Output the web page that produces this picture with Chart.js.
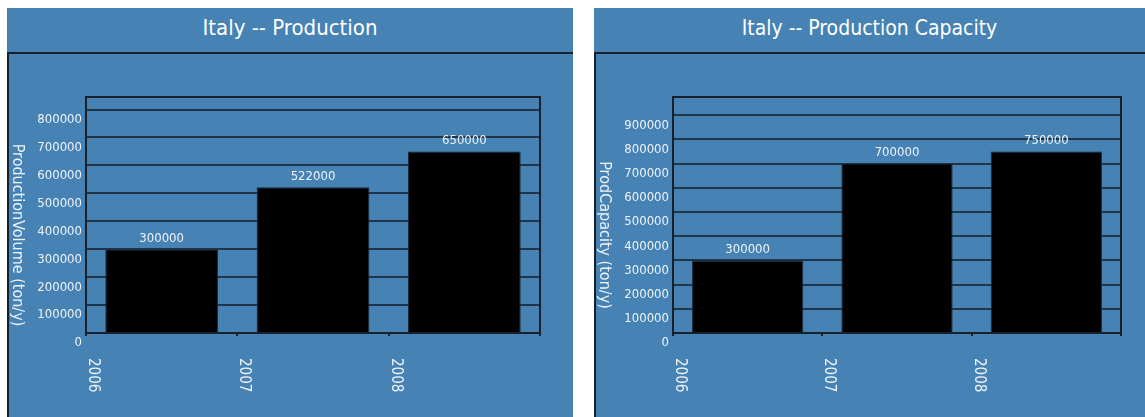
<!DOCTYPE html>
<html>
<head>
<meta charset="utf-8">
<script src="https://cdn.jsdelivr.net/npm/chart.js@4.4.1/dist/chart.umd.min.js"></script>
<style>
  body { margin: 0; width: 1145px; height: 417px; background: #fff; overflow: hidden; position: relative; }
  .panel { position: absolute; top: 8px; height: 409px; background: #4682b4; }
  .head {
    height: 44px; border-bottom: 2px solid #16212c; color: #fff; text-align: center;
    font-family: "DejaVu Sans Condensed", sans-serif; line-height: 40px;
  }
  .body { position: absolute; top: 46px; left: 0; right: 0; bottom: 0; border-left: 2px solid #16212c; }
</style>
</head>
<body>
<div class="panel" style="left:7px;width:566px">
  <div class="head" style="font-size:22px">Italy -- Production</div>
  <div class="body"><canvas id="productionChart" width="564" height="363"></canvas></div>
</div>
<div class="panel" style="left:594px;width:551px">
  <div class="head" style="font-size:21px">Italy -- Production Capacity</div>
  <div class="body"><canvas id="capacityChart" width="549" height="363"></canvas></div>
</div>
<script>
const years = ["2006", "2007", "2008"];
const production = [300000, 522000, 650000];
const capacity = [300000, 700000, 750000];
const productionTicks = [0, 100000, 200000, 300000, 400000, 500000, 600000, 700000, 800000];
const capacityTicks = [0, 100000, 200000, 300000, 400000, 500000, 600000, 700000, 800000, 900000];
const productionMax = 845000;
const capacityMax = 975000;

const FONT = '"DejaVu Sans Condensed", sans-serif';
const LINE = "#16212c";
const TEXT = "#eef3f8";

// frame, rotated year labels, axis title and bar values
const extras = {
  id: "extras",
  beforeDatasetsDraw(chart) {
    const { ctx, chartArea: a } = chart;
    ctx.save();
    ctx.strokeStyle = LINE;
    ctx.lineWidth = 2;
    ctx.strokeRect(a.left, a.top, a.right - a.left, a.bottom - a.top);
    ctx.restore();
  },
  afterDatasetsDraw(chart) {
    const { ctx, chartArea: a } = chart;
    const xs = chart.scales.x;
    const half = (xs.getPixelForValue(1) - xs.getPixelForValue(0)) / 2;
    ctx.save();
    ctx.fillStyle = TEXT;

    // values above bars
    ctx.font = "13px " + FONT;
    ctx.textAlign = "center";
    ctx.textBaseline = "bottom";
    const ds = chart.data.datasets[0];
    chart.getDatasetMeta(0).data.forEach((bar, i) => {
      ctx.fillText(String(ds.data[i]), bar.x, bar.y - 4);
    });

    // year labels, read top to bottom
    ctx.font = "15px " + FONT;
    ctx.textAlign = "left";
    ctx.textBaseline = "middle";
    chart.data.labels.forEach((label, i) => {
      ctx.save();
      ctx.translate(xs.getPixelForValue(i) - half + 7, a.bottom + 25);
      ctx.rotate(Math.PI / 2);
      ctx.fillText(label, 0, 0);
      ctx.restore();
    });

    // y axis title, read top to bottom
    ctx.font = "16px " + FONT;
    ctx.textAlign = "center";
    ctx.save();
    ctx.translate(8, (a.top + a.bottom) / 2 + 20);
    ctx.rotate(Math.PI / 2);
    ctx.fillText(chart.options.yTitle, 0, 0);
    ctx.restore();

    ctx.restore();
  },
};

function barChart(id, values, yTicks, yMax, yTitle, rightPad) {
  const ctx = document.getElementById(id)?.getContext("2d");
  if (!ctx) return;
  new Chart(ctx, {
    type: "bar",
    data: {
      labels: years,
      datasets: [
        {
          data: values,
          backgroundColor: "#000",
          borderColor: "#1b2a38",
          borderWidth: 1,
          categoryPercentage: 1,
          barPercentage: 0.745,
        },
      ],
    },
    plugins: [extras],
    options: {
      yTitle: yTitle,
      responsive: false,
      animation: false,
      layout: { padding: { top: 43, right: rightPad, left: 0, bottom: 0 } },
      plugins: { legend: { display: false }, tooltip: { enabled: false } },
      scales: {
        x: {
          offset: true,
          grid: { offset: true, drawOnChartArea: false, color: LINE, lineWidth: 2, tickLength: 3 },
          border: { color: "#000", width: 2 },
          ticks: { display: false },
          afterFit: (s) => { s.height = 84; },
        },
        y: {
          min: 0,
          max: yMax,
          grid: { color: "#1f3549", lineWidth: 2, drawTicks: false },
          border: { color: LINE, width: 2 },
          afterBuildTicks: (s) => { s.ticks = yTicks.map((v) => ({ value: v })); },
          ticks: {
            autoSkip: false,
            color: TEXT,
            padding: 4,
            labelOffset: 10,
            font: { family: FONT, size: 13 },
            callback: (v) => String(v),
          },
          afterFit: (s) => { s.width = 77; },
        },
      },
    },
  });
}

barChart("productionChart", production, productionTicks, productionMax, "ProductionVolume (ton/y)", 33);
barChart("capacityChart", capacity, capacityTicks, capacityMax, "ProdCapacity (ton/y)", 24);
</script>
</body>
</html>
